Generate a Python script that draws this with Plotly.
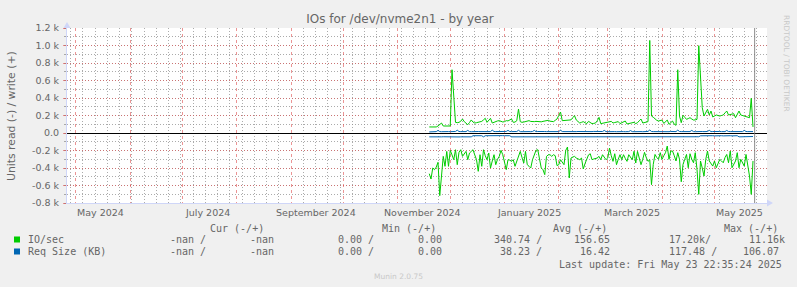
import plotly.graph_objects as go
import pandas as pd

# ---------------- data ----------------
start_date = "2024-11-19"
last_update = "2025-05-23 22:35:24"

# IO/sec, write (+)
io_write = [
    69, 69, 69, 69, 69, 80, 95, 114, 80, 78,
    78, 80, 80, 723, 389, 122, 118, 122, 135, 160,
    130, 114, 95, 120, 149, 125, 114, 118, 122, 128,
    133, 150, 168, 122, 150, 168, 114, 125, 133, 138,
    141, 132, 126, 130, 141, 138, 150, 160, 122, 125,
    140, 274, 130, 122, 125, 130, 136, 141, 132, 128,
    130, 133, 130, 133, 128, 133, 138, 140, 145, 135,
    130, 130, 145, 160, 200, 240, 141, 143, 145, 140,
    141, 150, 175, 198, 149, 125, 114, 122, 130, 118,
    107, 133, 118, 107, 110, 114, 140, 179, 107, 110,
    112, 114, 120, 128, 133, 114, 120, 125, 130, 107,
    115, 125, 137, 103, 108, 112, 118, 122, 107, 118,
    140, 160, 114, 118, 122, 130, 1058, 194, 180, 156,
    145, 137, 142, 148, 109, 130, 148, 99, 120, 137,
    100, 88, 723, 194, 118, 202, 180, 156, 165, 175,
    160, 148, 150, 156, 998, 613, 290, 194, 230, 271,
    206, 251, 183, 195, 206, 200, 194, 200, 206, 230,
    251, 206, 210, 215, 221, 175, 220, 251, 206, 200,
    194, 185, 180, 175, 396, 69,
]

# IO/sec, read (-)
io_read = [
    -465, -526, -400, -419, -390, -335, -716, -457, -267, -381,
    -210, -381, -198, -250, -305, -191, -362, -220, -191, -267,
    -240, -210, -305, -229, -210, -191, -250, -305, -438, -248,
    -381, -191, -260, -305, -229, -400, -320, -248, -362, -300,
    -267, -198, -248, -330, -419, -305, -310, -324, -305, -381,
    -324, -290, -210, -280, -343, -210, -362, -380, -400, -305,
    -250, -198, -191, -286, -400, -420, -476, -267, -250, -248,
    -267, -248, -260, -373, -362, -305, -340, -362, -198, -160,
    -514, -286, -275, -267, -286, -295, -305, -286, -411, -350,
    -305, -250, -237, -305, -297, -290, -286, -267, -305, -248,
    -280, -305, -286, -172, -260, -324, -237, -362, -300, -248,
    -305, -248, -290, -324, -248, -280, -305, -210, -343, -210,
    -305, -362, -300, -221, -280, -324, -305, -590, -359, -245,
    -280, -301, -225, -301, -260, -225, -149, -301, -206, -206,
    -260, -320, -225, -300, -557, -359, -300, -245, -397, -237,
    -300, -340, -225, -416, -701, -320, -400, -492, -301, -206,
    -320, -350, -378, -320, -397, -350, -301, -320, -340, -280,
    -245, -340, -206, -397, -350, -320, -225, -397, -301, -340,
    -378, -245, -350, -492, -701, -320,
]

# Req Size (KB), write (+)
req_write = [
    12, 14, 15, 16, 16, 30, 16, 15, 17, 16,
    18, 16, 15, 17, 16, 18, 32, 17, 16, 15,
    17, 16, 30, 16, 15, 17, 18, 16, 17, 16,
    15, 16, 17, 16, 18, 16, 33, 17, 16, 15,
    16, 17, 15, 16, 18, 30, 17, 16, 15, 16,
    17, 31, 16, 15, 17, 16, 18, 16, 15, 17,
    30, 16, 17, 15, 16, 18, 17, 16, 15, 16,
    17, 16, 15, 18, 16, 32, 17, 16, 15, 16,
    17, 16, 18, 15, 16, 17, 16, 15, 18, 16,
    17, 16, 15, 16, 18, 17, 16, 15, 16, 17,
    30, 16, 15, 17, 16, 18, 16, 15, 17, 16,
    18, 16, 15, 17, 16, 28, 16, 15, 17, 16,
    18, 16, 15, 17, 16, 18, 34, 17, 16, 15,
    17, 16, 18, 15, 16, 17, 16, 15, 18, 16,
    17, 16, 33, 17, 16, 15, 18, 16, 17, 16,
    30, 16, 15, 17, 16, 18, 17, 16, 15, 17,
    31, 16, 17, 15, 16, 18, 17, 16, 15, 16,
    29, 17, 16, 15, 18, 16, 17, 16, 15, 16,
    30, 17, 16, 18, 22, 16,
]

# Req Size (KB), read (-)
req_read = [
    -44, -45, -44, -43, -44, -45, -44, -44, -43, -44,
    -44, -45, -44, -44, -43, -44, -44, -45, -44, -44,
    -43, -44, -44, -45, -44, -31, -31, -30, -31, -31,
    -31, -44, -31, -31, -30, -31, -29, -31, -31, -30,
    -31, -31, -30, -31, -31, -31, -31, -44, -44, -45,
    -44, -44, -43, -44, -44, -45, -44, -44, -43, -44,
    -44, -45, -44, -44, -43, -44, -44, -45, -44, -44,
    -43, -44, -44, -45, -44, -44, -43, -44, -44, -45,
    -44, -44, -43, -44, -44, -45, -44, -44, -43, -44,
    -44, -45, -44, -44, -43, -44, -44, -45, -44, -44,
    -43, -44, -44, -45, -44, -44, -43, -44, -44, -45,
    -44, -44, -43, -44, -44, -45, -44, -44, -43, -44,
    -44, -45, -44, -44, -43, -44, -44, -45, -44, -44,
    -43, -44, -44, -45, -44, -44, -43, -44, -44, -45,
    -44, -44, -43, -44, -44, -45, -44, -44, -43, -44,
    -44, -45, -44, -44, -43, -32, -31, -31, -33, -31,
    -32, -31, -31, -33, -31, -32, -31, -31, -33, -31,
    -32, -31, -31, -33, -31, -32, -31, -44, -44, -43,
    -44, -44, -45, -44, -44, -40,
]

y_ticks = [-800, -600, -400, -200, 0, 200, 400, 600, 800, 1000, 1200]
month_labels = ["2024-05", "2024-07", "2024-09", "2024-11", "2025-01", "2025-03", "2025-05"]

legend_header = ["Cur (-/+)", "Min (-/+)", "Avg (-/+)", "Max (-/+)"]
legend_rows = [
    ("IO/sec", "#00CC00", ["-nan /", "-nan", "0.00 /", "0.00", "340.74 /", "156.65", "17.20k/", "11.16k"]),
    ("Req Size (KB)", "#0066B3", ["-nan /", "-nan", "0.00 /", "0.00", "38.23 /", "16.42", "117.48 /", "106.07"]),
]

x_range = ["2024-04-26", "2025-05-31"]

# ---------------- layout helpers ----------------
W_FIG, H_FIG = 797, 287
L, R, T, B = 67, 767, 28, 203
PW, PH = R - L, B - T


def px(x):
    return (x - L) / PW


def py(y):
    return (B - y) / PH


FONT = "DejaVu Sans"
MONO = "DejaVu Sans Mono"
TXT = "#666666"
GRID = "rgba(143,143,143,0.75)"
MGRID = "rgba(222,79,79,0.6)"
AXIS = "#CFD6F8"
DASH = "1px,2px"

dates = pd.date_range(start_date, periods=len(io_write), freq="D")

fig = go.Figure()
fig.add_trace(go.Scatter(x=dates, y=io_read, mode="lines",
                         line=dict(color="#00CC00", width=1), showlegend=False))
fig.add_trace(go.Scatter(x=dates, y=io_write, mode="lines",
                         line=dict(color="#00CC00", width=1), showlegend=False))
fig.add_trace(go.Scatter(x=dates, y=req_read, mode="lines",
                         line=dict(color="#0066B3", width=1), showlegend=False))
fig.add_trace(go.Scatter(x=dates, y=req_write, mode="lines",
                         line=dict(color="#0066B3", width=1), showlegend=False))


def ylab(v):
    return "0.0" if v == 0 else f"{v / 1000:.1f} k"


fig.update_layout(
    width=W_FIG, height=H_FIG,
    margin=dict(l=L, r=W_FIG - R, t=T, b=H_FIG - B, autoexpand=False),
    paper_bgcolor="#F0F0F0", plot_bgcolor="#FFFFFF",
    font=dict(family=FONT, color=TXT),
    title=dict(text="IOs for /dev/nvme2n1 - by year", x=400 / W_FIG, xref="container",
               y=1 - 19 / H_FIG, yref="container", xanchor="center", yanchor="middle",
               font=dict(family=FONT, size=12, color=TXT)),
    xaxis=dict(type="date", range=x_range, showticklabels=False, ticks="",
               showgrid=True, gridcolor=MGRID, griddash="dot", gridwidth=1,
               dtick="M1", tick0="2024-05-01",
               minor=dict(dtick=7 * 86400000, tick0="2024-04-28", showgrid=True,
                          gridcolor=GRID, griddash=DASH, gridwidth=1),
               showline=True, linecolor=AXIS, linewidth=1, zeroline=False,
               fixedrange=True),
    yaxis=dict(range=[-800, 1200], tickmode="array", tickvals=y_ticks,
               ticktext=[ylab(v) for v in y_ticks],
               tickfont=dict(family=FONT, size=9.5, color=TXT),
               ticks="outside", ticklen=3, tickcolor=MGRID, ticklabelstandoff=2,
               showgrid=True, gridcolor=MGRID, griddash=DASH, gridwidth=1,
               minor=dict(dtick=100, showgrid=True, gridcolor=GRID, griddash=DASH,
                          ticks="outside", ticklen=2, tickcolor=GRID),
               showline=True, linecolor=AXIS, linewidth=1,
               zeroline=True, zerolinecolor="#000000", zerolinewidth=1,
               fixedrange=True),
)

ann = []
ann.append(dict(x=px(11), y=py(116), xref="paper", yref="paper", text="Units read (-) / write (+)",
                textangle=-90, showarrow=False, font=dict(family=FONT, size=10.8, color=TXT),
                xanchor="center", yanchor="middle"))
for m in month_labels:
    d = pd.Timestamp(m + "-15")
    ann.append(dict(x=d, y=py(212), xref="x", yref="paper", text=d.strftime("%B %Y"),
                    showarrow=False, font=dict(family=FONT, size=9.5, color=TXT),
                    xanchor="center", yanchor="middle", borderpad=0))
ann.append(dict(x=px(787), y=py(64), xref="paper", yref="paper", text="RRDTOOL / TOBI OETIKER",
                textangle=90, showarrow=False, font=dict(family=FONT, size=7.5, color="#C8C8C8"),
                xanchor="center", yanchor="middle"))
for txt, x0 in zip(legend_header, [209.3, 380.7, 552, 722.7]):
    ann.append(dict(x=px(x0), y=py(228), xref="paper", yref="paper", text=txt, showarrow=False,
                    font=dict(family=MONO, size=10, color=TXT), xanchor="left", yanchor="middle",
                    borderpad=0))
col_x = [
    [169, 249.3, 336.7, 416.7, 492.7, 573.3, 667.7, 747.7],
    [169, 249.3, 336.7, 416.7, 499.3, 579.3, 667.7, 741.7],
]
shapes = []
for i, (name, color, vals) in enumerate(legend_rows):
    yc = 239.5 + 12 * i
    shapes.append(dict(type="rect", xref="paper", yref="paper",
                       x0=px(14), x1=px(20), y0=py(yc - 3), y1=py(yc + 3),
                       fillcolor=color, line=dict(width=0)))
    ann.append(dict(x=px(26.7), y=py(yc), xref="paper", yref="paper", text=name, showarrow=False,
                    font=dict(family=MONO, size=10, color=TXT), xanchor="left", yanchor="middle",
                    borderpad=0))
    for txt, x0 in zip(vals, col_x[i]):
        ann.append(dict(x=px(x0), y=py(yc), xref="paper", yref="paper", text=txt, showarrow=False,
                        font=dict(family=MONO, size=10, color=TXT), xanchor="left",
                        yanchor="middle", borderpad=0))
lu = pd.Timestamp(last_update)
ann.append(dict(x=px(782.5), y=py(264), xref="paper", yref="paper",
                text="Last update: " + lu.strftime("%a %b %d %H:%M:%S %Y"), showarrow=False,
                font=dict(family=MONO, size=10, color=TXT), xanchor="right", yanchor="middle",
                borderpad=0))
ann.append(dict(x=px(398), y=py(276), xref="paper", yref="paper", text="Munin 2.0.75",
                showarrow=False, font=dict(family=FONT, size=7.5, color="#C8C8C8"),
                xanchor="center", yanchor="middle", borderpad=0))

shapes.append(dict(type="line", xref="x", yref="paper", x0=lu, x1=lu, y0=0, y1=1,
                   line=dict(color="rgba(120,120,120,0.85)", width=1)))
shapes.append(dict(type="path", xref="paper", yref="paper",
                   path=f"M {px(767)},{py(199.5)} L {px(773)},{py(203)} L {px(767)},{py(206.5)} Z",
                   fillcolor=AXIS, line=dict(width=0)))
shapes.append(dict(type="path", xref="paper", yref="paper",
                   path=f"M {px(63.5)},{py(28)} L {px(67)},{py(22)} L {px(70.5)},{py(28)} Z",
                   fillcolor=AXIS, line=dict(width=0)))

fig.update_layout(annotations=ann, shapes=shapes)
fig.write_html("out.html")
